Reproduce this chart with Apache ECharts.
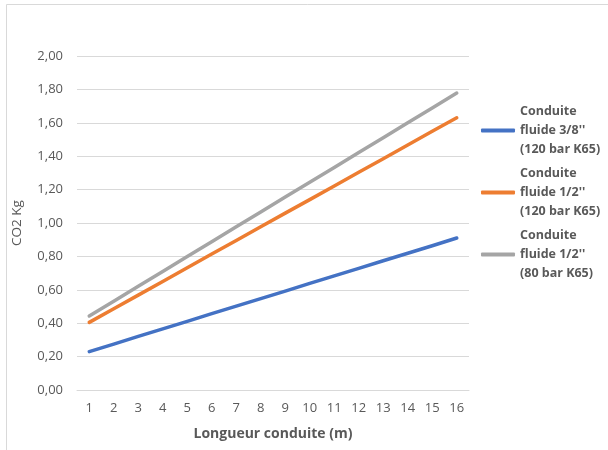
<!DOCTYPE html>
<html>
<head>
<meta charset="utf-8">
<script src="https://cdn.jsdelivr.net/npm/echarts@6/dist/echarts.min.js"></script>
<style>
  html, body { margin: 0; padding: 0; background: #fff; }
  #chart { width: 608px; height: 450px; }
</style>
</head>
<body>
<div id="chart"></div>
<script>
// Pipe length (m)
const lengths = ['1','2','3','4','5','6','7','8','9','10','11','12','13','14','15','16'];

// CO2 mass (kg) per pipe type
const pipe38_120 = [0.230,0.275,0.321,0.366,0.411,0.457,0.502,0.547,0.592,0.638,0.683,0.728,0.774,0.819,0.864,0.910];
const pipe12_120 = [0.405,0.487,0.568,0.650,0.732,0.814,0.895,0.977,1.059,1.140,1.222,1.304,1.385,1.467,1.549,1.630];
const pipe12_80  = [0.443,0.532,0.621,0.710,0.799,0.888,0.977,1.066,1.155,1.244,1.333,1.422,1.511,1.600,1.689,1.778];

const seriesNames = [
  "Conduite\nfluide 3/8''\n(120 bar K65)",
  "Conduite\nfluide 1/2''\n(120 bar K65)",
  "Conduite\nfluide 1/2''\n(80 bar K65)"
];
const colors = ['#4472C4', '#ED7D31', '#A5A5A5'];

const font = '"Open Sans", "Noto Sans", sans-serif';
const textColor = '#595959';
const gridColor = '#d9d9d9';

const chart = echarts.init(document.getElementById('chart'), null, { renderer: 'canvas' });

function lineSeries(name, data, color) {
  return {
    name: name,
    type: 'line',
    data: data,
    showSymbol: false,
    symbol: 'none',
    lineStyle: { color: color, width: 3.5, cap: 'round', join: 'round' },
    itemStyle: { color: color },
    emphasis: { disabled: true }
  };
}

chart.setOption({
  animation: false,
  backgroundColor: '#ffffff',
  textStyle: { fontFamily: font },
  graphic: [{
    type: 'rect',
    shape: { x: 6.5, y: 4.5, width: 700, height: 500 },
    style: { fill: 'none', stroke: gridColor, lineWidth: 1 },
    silent: true
  }],
  grid: { left: 77, right: 139, top: 56, bottom: 60 },
  legend: {
    orient: 'vertical',
    left: 481,
    top: 102,
    padding: 0,
    itemGap: 5,
    itemWidth: 34,
    itemHeight: 4,
    icon: 'roundRect',
    textStyle: {
      color: textColor,
      fontFamily: font,
      fontSize: 12.5,
      fontWeight: 'bold',
      lineHeight: 19,
      padding: [0, 0, 0, 0]
    },
    data: seriesNames
  },
  xAxis: {
    type: 'category',
    data: lengths,
    boundaryGap: true,
    name: 'Longueur conduite (m)',
    nameLocation: 'middle',
    nameGap: 37,
    nameTextStyle: { color: textColor, fontSize: 14, fontWeight: 'bold', fontFamily: font },
    axisLine: { show: true, lineStyle: { color: gridColor, width: 1 } },
    axisTick: { show: false },
    axisLabel: { color: textColor, fontSize: 13, fontFamily: font, margin: 12, interval: 0 }
  },
  yAxis: {
    type: 'value',
    min: 0,
    max: 2,
    interval: 0.2,
    name: 'CO2 Kg',
    nameLocation: 'middle',
    nameGap: 53,
    nameRotate: 90,
    nameTextStyle: { color: textColor, fontSize: 13.5, fontFamily: font },
    axisLine: { show: false },
    axisTick: { show: false },
    splitLine: { lineStyle: { color: gridColor, width: 1 } },
    axisLabel: {
      color: textColor,
      fontSize: 13,
      fontFamily: font,
      margin: 14,
      formatter: v => v.toFixed(2).replace('.', ',')
    }
  },
  series: [
    lineSeries(seriesNames[0], pipe38_120, colors[0]),
    lineSeries(seriesNames[1], pipe12_120, colors[1]),
    lineSeries(seriesNames[2], pipe12_80, colors[2])
  ]
});
</script>
</body>
</html>
